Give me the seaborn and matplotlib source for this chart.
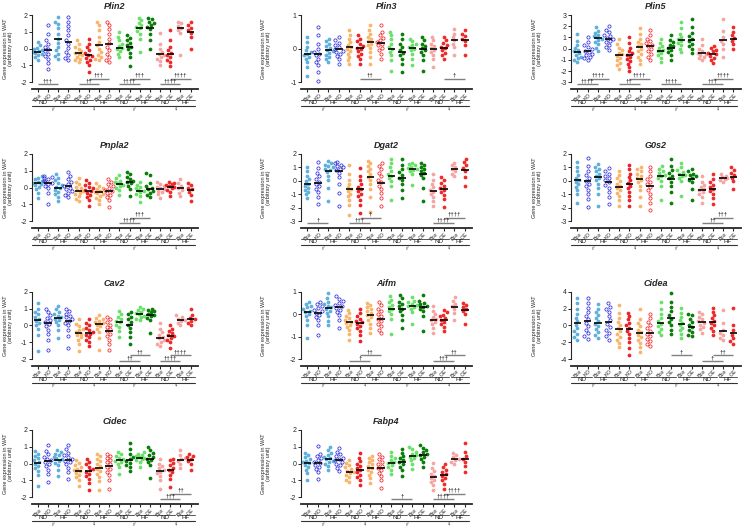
import numpy as np
import pandas as pd
import matplotlib
matplotlib.use('Agg')
import matplotlib.pyplot as plt
import matplotlib.transforms as mtrans
from matplotlib.colors import to_rgba
import seaborn as sns
import warnings
warnings.filterwarnings('ignore')

sns.set_theme(style='ticks')
plt.rcParams['font.family'] = ['Liberation Sans', 'DejaVu Sans']

# ---------------- categories / labels ----------------
GROUP_COLORS = ['#5FB0DA', '#2B2BD6', '#5FB0DA', '#2B2BD6',
                '#F9B56B', '#EC2227', '#F9B56B', '#EC2227',
                '#6BE06B', '#0A7D0A', '#6BE06B', '#0A7D0A',
                '#F6A5A5', '#EE2A2A', '#F6A5A5', '#EE2A2A']
OPEN_GROUPS = [1, 3, 7]
TICK_LABELS = ['Box', 'KO'] * 4 + ['Box', 'OE'] * 4
DIET_LABELS = ['ND', 'HF']
SEX_LABELS = ['♂', '♀', '♂', '♀']
YLABEL = 'Gene expression in WAT\n(arbitrary unit)'

# ---------------- data ----------------
PLIN2 = [
    [0.4, 0.2, 0.05, -0.05, -0.1, -0.15, -0.2, -0.25, -0.3, -0.4, -0.5, -0.65],
    [1.4, 0.9, 0.5, 0.3, 0.1, -0.05, -0.15, -0.3, -0.45, -0.6, -0.85, -1.2],
    [1.9, 1.6, 1.45, 1.2, 0.9, 0.6, 0.35, 0.1, -0.1, -0.3, -0.45, -0.6],
    [1.9, 1.6, 1.35, 1.1, 0.8, 0.5, 0.3, 0.05, -0.2, -0.4, -0.55, -0.7],
    [0.5, 0.3, 0.1, 0.0, -0.15, -0.25, -0.3, -0.4, -0.5, -0.6, -0.7, -0.8],
    [0.55, 0.3, 0.1, -0.1, -0.25, -0.35, -0.45, -0.55, -0.65, -0.8, -1.0, -1.4],
    [1.6, 1.4, 1.1, 0.7, 0.4, 0.2, 0.0, -0.2, -0.35, -0.5, -0.6, -0.7],
    [1.6, 1.4, 1.15, 0.9, 0.6, 0.35, 0.1, -0.1, -0.3, -0.5, -0.65, -0.8],
    [1.0, 0.7, 0.5, 0.3, 0.15, 0.05, -0.05, -0.15, -0.3, -0.5],
    [0.8, 0.65, 0.5, 0.35, 0.2, 0.1, -0.05, -0.25, -0.5, -1.05],
    [1.85, 1.7, 1.55, 1.4, 1.3, 1.2, 1.05, 0.9, 0.6, -0.2],
    [1.85, 1.75, 1.6, 1.5, 1.4, 1.3, 1.15, 0.9, 0.5, 0.0],
    [0.95, 0.3, 0.0, -0.2, -0.3, -0.4, -0.5, -0.6, -0.75, -1.0],
    [1.1, 0.5, 0.1, -0.1, -0.25, -0.35, -0.5, -0.65, -0.8, -1.05],
    [1.6, 1.5, 1.35, 1.2, 1.1, 0.95, -0.35],
    [1.6, 1.4, 1.25, 1.1, 0.95, 0.7, -0.05],
]
PLIN2_MEAN = [-0.2, -0.1, 0.55, 0.4, -0.25, -0.35, 0.2, 0.3,
              0.05, 0.1, 1.2, 1.25, -0.3, -0.3, 1.2, 1.0]
PLIN2_SIG = [(0, 2, 0, '†††'), (4, 6, 0, '††'), (5, 7, 1, '†††'), (8, 10, 0, '††††'),
             (9, 11, 1, '†††'), (12, 14, 0, '††††'), (13, 15, 1, '††††')]

PLIN3 = [
    [0.35, 0.2, 0.05, -0.05, -0.1, -0.15, -0.2, -0.25, -0.3, -0.4, -0.55, -0.8],
    [0.65, 0.4, 0.15, 0.0, -0.1, -0.15, -0.2, -0.3, -0.4, -0.5, -0.7, -0.95],
    [0.3, 0.22, 0.15, 0.08, 0.02, -0.03, -0.08, -0.12, -0.18, -0.25, -0.32, -0.4],
    [0.35, 0.25, 0.18, 0.1, 0.04, -0.02, -0.06, -0.1, -0.15, -0.22, -0.32, -0.45],
    [0.55, 0.4, 0.3, 0.2, 0.12, 0.05, 0.0, -0.07, -0.15, -0.25, -0.35, -0.45],
    [0.4, 0.3, 0.22, 0.15, 0.08, 0.03, -0.02, -0.08, -0.15, -0.22, -0.32, -0.45],
    [0.7, 0.55, 0.45, 0.35, 0.28, 0.22, 0.15, 0.1, 0.02, -0.1, -0.25, -0.45],
    [0.7, 0.5, 0.4, 0.32, 0.25, 0.2, 0.15, 0.1, 0.03, -0.05, -0.15, -0.3],
    [0.5, 0.4, 0.28, 0.15, 0.05, -0.02, -0.1, -0.2, -0.35, -0.65],
    [0.45, 0.3, 0.15, 0.05, -0.05, -0.12, -0.2, -0.3, -0.45, -0.7],
    [0.3, 0.22, 0.15, 0.1, 0.05, 0.0, -0.05, -0.15, -0.3, -0.5],
    [0.35, 0.25, 0.15, 0.08, 0.02, -0.05, -0.1, -0.2, -0.35, -0.65],
    [0.35, 0.25, 0.15, 0.08, 0.02, -0.05, -0.1, -0.18, -0.3, -0.55],
    [0.35, 0.25, 0.18, 0.12, 0.06, 0.02, -0.05, -0.12, -0.2, -0.3],
    [0.58, 0.45, 0.35, 0.25, 0.15, 0.05, -0.2],
    [0.55, 0.45, 0.38, 0.3, 0.22, 0.1, -0.2],
]
PLIN3_MEAN = [-0.17, -0.17, -0.03, -0.02, 0.05, 0.03, 0.2, 0.18,
              -0.02, -0.1, 0.03, -0.02, -0.02, 0.03, 0.25, 0.27]
PLIN3_SIG = [(5, 7, 1, '††'), (13, 15, 1, '†')]

PLIN5 = [
    [1.3, 0.7, 0.35, 0.1, -0.1, -0.25, -0.4, -0.55, -0.7, -0.85, -1.0, -1.2],
    [1.0, 0.6, 0.35, 0.15, -0.05, -0.2, -0.3, -0.45, -0.55, -0.7, -0.85, -1.0],
    [1.9, 1.6, 1.4, 1.25, 1.1, 1.0, 0.9, 0.75, 0.6, 0.4, 0.1, -0.2],
    [2.0, 1.7, 1.45, 1.25, 1.1, 0.95, 0.85, 0.7, 0.55, 0.35, 0.15, -0.1],
    [0.9, 0.4, 0.1, -0.15, -0.35, -0.5, -0.65, -0.8, -1.0, -1.25, -1.5, -1.8],
    [1.0, 0.5, 0.1, -0.2, -0.4, -0.55, -0.7, -0.9, -1.1, -1.35, -1.65, -2.0],
    [1.8, 1.3, 0.9, 0.6, 0.4, 0.2, 0.0, -0.2, -0.45, -0.7, -1.0, -1.4],
    [1.7, 1.2, 0.9, 0.7, 0.5, 0.35, 0.2, 0.0, -0.2, -0.45, -0.7, -1.0],
    [0.9, 0.5, 0.25, 0.05, -0.1, -0.25, -0.4, -0.6, -0.85, -1.2],
    [1.2, 0.8, 0.55, 0.35, 0.2, 0.05, -0.1, -0.3, -0.55, -1.0],
    [2.4, 1.8, 1.35, 1.05, 0.85, 0.7, 0.5, 0.3, 0.0, -0.3],
    [2.6, 1.9, 1.4, 1.1, 0.85, 0.65, 0.45, 0.2, -0.05, -0.4],
    [0.9, 0.3, 0.0, -0.2, -0.35, -0.45, -0.55, -0.7, -0.85, -1.0],
    [0.2, 0.05, -0.1, -0.25, -0.4, -0.5, -0.65, -0.8, -1.0, -1.3],
    [2.6, 1.6, 1.0, 0.7, 0.4, 0.0, -0.7],
    [1.9, 1.5, 1.2, 0.95, 0.7, 0.4, 0.0],
]
PLIN5_MEAN = [-0.27, -0.2, 0.97, 0.9, -0.55, -0.6, 0.15, 0.25,
              -0.2, 0.1, 0.77, 0.78, -0.35, -0.45, 0.75, 0.9]
PLIN5_SIG = [(0, 2, 0, '††††'), (1, 3, 1, '††††'), (4, 6, 0, '††'), (5, 7, 1, '††††'),
             (8, 10, 0, '††††'), (12, 14, 0, '†††'), (13, 15, 1, '††††')]

PNPLA2 = [
    [0.7, 0.6, 0.5, 0.42, 0.35, 0.28, 0.22, 0.15, 0.05, -0.1, -0.3, -0.6],
    [0.7, 0.65, 0.58, 0.5, 0.42, 0.35, 0.28, 0.2, 0.1, -0.05, -0.3, -1.0],
    [0.8, 0.6, 0.45, 0.3, 0.15, 0.05, -0.05, -0.15, -0.25, -0.4, -0.55, -0.8],
    [0.95, 0.7, 0.5, 0.35, 0.2, 0.1, 0.0, -0.1, -0.2, -0.3, -0.42, -0.55],
    [0.6, 0.35, 0.2, 0.05, -0.05, -0.15, -0.22, -0.3, -0.4, -0.5, -0.65, -0.8],
    [0.45, 0.3, 0.15, 0.05, -0.05, -0.12, -0.2, -0.3, -0.42, -0.55, -0.75, -1.1],
    [0.25, 0.1, 0.0, -0.1, -0.18, -0.25, -0.32, -0.4, -0.5, -0.6, -0.75, -1.0],
    [0.5, 0.35, 0.2, 0.08, -0.02, -0.12, -0.2, -0.3, -0.42, -0.55, -0.75, -1.15],
    [0.75, 0.55, 0.42, 0.32, 0.25, 0.18, 0.1, 0.0, -0.15, -0.45],
    [0.95, 0.8, 0.65, 0.52, 0.42, 0.35, 0.25, 0.1, -0.1, -0.5],
    [0.35, 0.15, 0.05, -0.05, -0.12, -0.2, -0.28, -0.38, -0.5, -0.85],
    [0.85, 0.75, 0.3, 0.1, 0.0, -0.1, -0.2, -0.3, -0.42, -0.55],
    [0.35, 0.22, 0.12, 0.05, -0.02, -0.1, -0.18, -0.28, -0.4, -0.6],
    [0.35, 0.28, 0.22, 0.15, 0.08, 0.02, -0.05, -0.12, -0.25, -0.5],
    [0.5, 0.25, 0.1, -0.05, -0.15, -0.3, -0.5],
    [0.3, 0.15, 0.0, -0.1, -0.25, -0.45, -0.8],
]
PNPLA2_MEAN = [0.25, 0.3, 0.0, 0.08, -0.18, -0.18, -0.28, -0.18,
               0.2, 0.35, -0.18, -0.08, -0.08, 0.02, -0.04, -0.15]
PNPLA2_SIG = [(8, 10, 0, '††††'), (9, 11, 1, '†††')]

DGAT2 = [
    [1.05, 0.7, 0.4, 0.15, 0.0, -0.2, -0.35, -0.5, -0.65, -0.8, -1.0, -1.25],
    [1.4, 0.95, 0.6, 0.35, 0.15, -0.05, -0.2, -0.4, -0.6, -0.85, -1.2, -1.75],
    [1.45, 1.3, 1.2, 1.1, 1.0, 0.9, 0.8, 0.65, 0.4, 0.1, -0.5, -1.5],
    [1.4, 1.3, 1.2, 1.1, 1.0, 0.9, 0.8, 0.6, 0.3, -0.2, -0.9, -1.85],
    [1.2, 0.5, 0.1, -0.2, -0.45, -0.6, -0.75, -0.95, -1.15, -1.4, -1.8, -2.5],
    [0.95, 0.4, 0.05, -0.25, -0.45, -0.6, -0.75, -0.95, -1.15, -1.4, -1.8, -2.4],
    [1.5, 1.3, 1.1, 0.9, 0.7, 0.5, 0.3, 0.1, -0.2, -0.6, -1.2, -2.3],
    [1.3, 1.1, 0.85, 0.6, 0.35, 0.1, -0.1, -0.35, -0.6, -0.9, -1.3, -1.9],
    [1.6, 1.3, 1.0, 0.75, 0.55, 0.4, 0.2, 0.0, -0.35, -1.4],
    [1.65, 1.2, 0.9, 0.65, 0.45, 0.25, 0.05, -0.25, -0.7, -1.3],
    [1.35, 1.25, 1.15, 1.05, 0.95, 0.9, 0.8, 0.7, 0.5, -0.3],
    [1.35, 1.2, 1.05, 0.9, 0.75, 0.6, 0.45, 0.2, -0.5, -1.5],
    [0.5, 0.1, -0.2, -0.45, -0.65, -0.8, -1.0, -1.2, -1.5, -1.9],
    [0.3, 0.1, -0.15, -0.35, -0.5, -0.65, -0.85, -1.05, -1.35, -1.95],
    [1.35, 1.15, 1.0, 0.85, 0.7, 0.55, 0.35],
    [1.65, 1.4, 1.15, 0.95, 0.7, 0.3, -0.35],
]
DGAT2_MEAN = [-0.22, -0.12, 0.76, 0.7, -0.62, -0.62, 0.3, -0.12,
              0.35, 0.2, 0.9, 0.52, -0.73, -0.62, 0.85, 0.83]
DGAT2_SIG = [(0, 2, 0, '†'), (4, 6, 0, '†††'), (5, 7, 1, '†'),
             (12, 14, 0, '††††'), (13, 15, 1, '††††')]

G0S2 = [
    [1.4, 1.0, 0.7, 0.45, 0.25, 0.1, -0.05, -0.25, -0.45, -0.7, -1.0, -1.65],
    [1.7, 1.1, 0.75, 0.45, 0.2, 0.0, -0.2, -0.4, -0.65, -0.95, -1.35, -1.95],
    [1.25, 1.05, 0.9, 0.7, 0.55, 0.4, 0.25, 0.05, -0.2, -0.5, -1.0, -1.9],
    [0.95, 0.75, 0.55, 0.35, 0.2, 0.05, -0.1, -0.3, -0.5, -0.8, -1.2, -1.7],
    [0.75, 0.45, 0.2, 0.0, -0.2, -0.35, -0.5, -0.7, -0.9, -1.15, -1.45, -1.85],
    [1.2, 0.85, 0.55, 0.3, 0.05, -0.15, -0.35, -0.55, -0.8, -1.1, -1.45, -1.9],
    [1.0, 0.85, 0.7, 0.55, 0.4, 0.25, 0.1, -0.1, -0.35, -0.7, -1.2, -1.9],
    [1.05, 0.7, 0.4, 0.15, -0.05, -0.25, -0.45, -0.7, -0.95, -1.25, -1.65, -2.15],
    [1.1, 0.9, 0.75, 0.6, 0.45, 0.35, 0.2, 0.0, -0.4, -1.4],
    [1.6, 1.1, 0.8, 0.6, 0.4, 0.2, -0.05, -0.35, -0.8, -1.65],
    [1.35, 1.0, 0.8, 0.65, 0.55, 0.45, 0.35, 0.2, 0.0, -1.15],
    [0.9, 0.7, 0.55, 0.45, 0.35, 0.25, 0.1, -0.1, -0.6, -1.4],
    [0.35, -0.1, -0.3, -0.45, -0.6, -0.7, -0.85, -1.0, -1.2, -1.65],
    [0.5, 0.15, -0.1, -0.3, -0.45, -0.6, -0.75, -0.95, -1.25, -1.75],
    [0.55, 0.4, 0.3, 0.2, 0.12, 0.05, -0.1],
    [1.0, 0.8, 0.6, 0.45, 0.25, 0.0, -0.6],
]
G0S2_MEAN = [0.07, -0.02, 0.3, -0.05, -0.42, -0.25, 0.12, -0.35,
             0.35, 0.17, 0.47, 0.17, -0.67, -0.57, 0.2, 0.32]
G0S2_SIG = [(12, 14, 0, '††'), (13, 15, 1, '†††')]

CAV2 = [
    [1.3, 1.0, 0.8, 0.65, 0.5, 0.38, 0.28, 0.15, 0.0, -0.2, -0.6, -1.5],
    [1.0, 0.8, 0.6, 0.45, 0.32, 0.2, 0.1, -0.05, -0.25, -0.5, -0.85, -1.45],
    [1.15, 0.95, 0.8, 0.68, 0.58, 0.48, 0.4, 0.3, 0.18, 0.0, -0.3, -0.75],
    [1.0, 0.85, 0.7, 0.58, 0.47, 0.37, 0.27, 0.15, 0.0, -0.25, -0.65, -1.35],
    [0.35, 0.1, -0.05, -0.2, -0.3, -0.4, -0.5, -0.6, -0.72, -0.88, -1.1, -1.55],
    [0.35, 0.15, 0.0, -0.15, -0.28, -0.4, -0.5, -0.6, -0.72, -0.85, -1.0, -1.25],
    [0.6, 0.45, 0.35, 0.28, 0.2, 0.12, 0.05, -0.05, -0.2, -0.4, -0.75, -1.45],
    [0.5, 0.35, 0.2, 0.05, -0.1, -0.22, -0.35, -0.5, -0.65, -0.85, -1.1, -1.45],
    [0.85, 0.65, 0.5, 0.38, 0.28, 0.18, 0.05, -0.1, -0.35, -0.7],
    [0.8, 0.65, 0.5, 0.35, 0.2, 0.05, -0.15, -0.4, -0.7, -1.1],
    [1.1, 1.0, 0.9, 0.8, 0.72, 0.65, 0.58, 0.5, 0.4, 0.3],
    [1.0, 0.92, 0.85, 0.78, 0.7, 0.62, 0.55, 0.45, 0.3, -0.45],
    [0.15, -0.2, -0.4, -0.55, -0.68, -0.78, -0.88, -0.98, -1.08, -1.2],
    [0.0, -0.2, -0.35, -0.48, -0.58, -0.66, -0.75, -0.85, -1.0, -1.35],
    [0.6, 0.5, 0.4, 0.32, 0.25, 0.15, 0.0],
    [1.0, 0.6, 0.45, 0.35, 0.25, 0.15, 0.0],
]
CAV2_MEAN = [0.33, 0.15, 0.43, 0.27, -0.45, -0.45, 0.08, -0.33,
             0.18, 0.05, 0.68, 0.63, -0.73, -0.63, 0.3, 0.35]
CAV2_SIG = [(8, 10, 0, '††'), (9, 11, 1, '††'), (12, 14, 0, '††††'), (13, 15, 1, '††††')]

AIFM = [
    [0.55, 0.45, 0.37, 0.3, 0.22, 0.15, 0.08, 0.0, -0.1, -0.25, -0.5, -1.05],
    [0.55, 0.45, 0.36, 0.28, 0.2, 0.13, 0.06, -0.02, -0.12, -0.28, -0.5, -0.95],
    [0.95, 0.7, 0.55, 0.45, 0.37, 0.3, 0.22, 0.15, 0.05, -0.1, -0.3, -0.5],
    [0.8, 0.68, 0.58, 0.5, 0.42, 0.35, 0.28, 0.2, 0.1, -0.05, -0.25, -0.6],
    [0.2, 0.05, -0.08, -0.18, -0.26, -0.33, -0.4, -0.48, -0.58, -0.7, -0.88, -1.15],
    [0.25, 0.05, -0.1, -0.2, -0.3, -0.37, -0.44, -0.52, -0.62, -0.75, -0.92, -1.2],
    [0.5, 0.42, 0.33, 0.25, 0.15, 0.05, -0.05, -0.15, -0.28, -0.42, -0.6, -0.85],
    [0.55, 0.4, 0.25, 0.12, 0.0, -0.1, -0.2, -0.3, -0.42, -0.55, -0.7, -0.85],
    [0.8, 0.65, 0.52, 0.42, 0.33, 0.25, 0.15, 0.02, -0.2, -0.9],
    [0.85, 0.7, 0.55, 0.45, 0.35, 0.25, 0.12, -0.02, -0.25, -0.6],
    [0.75, 0.6, 0.52, 0.46, 0.42, 0.38, 0.33, 0.25, 0.1, -0.45],
    [0.85, 0.6, 0.5, 0.44, 0.38, 0.32, 0.25, 0.15, -0.1, -0.75],
    [0.35, 0.15, 0.0, -0.12, -0.2, -0.28, -0.36, -0.45, -0.6, -0.85],
    [0.2, 0.08, -0.02, -0.1, -0.18, -0.26, -0.35, -0.45, -0.58, -0.75],
    [0.75, 0.6, 0.45, 0.35, 0.22, 0.05, -0.25],
    [0.5, 0.42, 0.33, 0.25, 0.15, 0.0, -0.45],
]
AIFM_MEAN = [0.09, 0.07, 0.27, 0.31, -0.37, -0.4, -0.03, -0.2,
             0.24, 0.24, 0.37, 0.3, -0.25, -0.25, 0.31, 0.19]
AIFM_SIG = [(4, 6, 0, '†'), (5, 7, 1, '††'), (12, 14, 0, '†††'), (13, 15, 1, '††')]

CIDEA = [
    [3.3, 2.6, 2.0, 1.4, 0.9, 0.5, 0.1, -0.3, -0.7, -1.0, -1.4, -1.7],
    [3.3, 2.7, 2.1, 1.6, 1.1, 0.7, 0.3, -0.1, -0.5, -0.9, -1.3, -1.6],
    [2.5, 2.0, 1.6, 1.2, 0.85, 0.5, 0.2, -0.1, -0.45, -0.8, -1.2, -1.5],
    [2.6, 2.2, 2.0, 1.6, 1.1, 0.6, 0.2, -0.2, -0.5, -0.9, -1.3, -1.7],
    [2.4, 1.5, 0.9, 0.4, 0.0, -0.35, -0.7, -1.0, -1.35, -1.7, -2.1, -2.6],
    [1.5, 1.1, 0.7, 0.3, 0.0, -0.3, -0.65, -1.0, -1.5, -2.0, -2.7, -3.5],
    [1.9, 0.8, 0.3, -0.1, -0.5, -0.8, -1.1, -1.4, -1.7, -2.1, -2.6, -3.2],
    [1.4, 0.9, 0.4, 0.0, -0.35, -0.7, -1.0, -1.3, -1.6, -1.9, -2.2, -2.5],
    [2.8, 2.0, 1.4, 0.9, 0.5, 0.2, -0.1, -0.4, -0.8, -1.2],
    [3.8, 2.8, 2.2, 1.7, 1.2, 0.8, 0.4, 0.0, -0.5, -1.0],
    [2.1, 1.5, 1.0, 0.6, 0.3, 0.0, -0.3, -0.6, -1.0, -1.5],
    [1.4, 1.2, 0.8, 0.4, 0.1, -0.2, -0.5, -0.8, -1.1, -1.3],
    [1.6, 1.3, 1.0, 0.75, 0.5, 0.3, 0.1, -0.15, -0.45, -0.85],
    [2.1, 1.6, 1.2, 0.9, 0.55, 0.3, 0.0, -0.3, -0.7, -1.2],
    [1.8, 0.3, -0.5, -0.9, -1.2, -1.45, -1.7],
    [2.1, 0.0, -0.6, -1.1, -1.5, -1.9, -2.2],
]
CIDEA_MEAN = [0.3, 0.47, 0.3, 0.4, -0.43, -0.43, -0.9, -0.86,
              0.3, 0.85, 0.12, -0.15, 0.38, 0.38, -0.7, -0.86]
CIDEA_SIG = [(9, 11, 1, '†'), (12, 14, 0, '†'), (13, 15, 1, '††')]

CIDEC = [
    [0.75, 0.6, 0.45, 0.32, 0.2, 0.1, 0.0, -0.12, -0.25, -0.42, -0.7, -1.3],
    [1.1, 0.75, 0.55, 0.42, 0.3, 0.2, 0.1, 0.0, -0.15, -0.35, -0.6, -1.1],
    [0.8, 0.7, 0.6, 0.5, 0.42, 0.33, 0.25, 0.15, 0.05, -0.1, -0.35, -0.75],
    [1.1, 0.85, 0.65, 0.5, 0.38, 0.28, 0.18, 0.08, -0.05, -0.25, -0.5, -0.9],
    [0.2, 0.05, -0.1, -0.2, -0.3, -0.38, -0.46, -0.55, -0.68, -0.82, -1.0, -1.3],
    [0.3, 0.1, -0.05, -0.18, -0.3, -0.4, -0.5, -0.62, -0.76, -0.92, -1.15, -1.55],
    [0.6, 0.45, 0.3, 0.15, 0.0, -0.15, -0.3, -0.45, -0.6, -0.8, -1.05, -1.55],
    [0.6, 0.45, 0.32, 0.2, 0.08, -0.05, -0.18, -0.32, -0.48, -0.68, -0.95, -1.5],
    [0.7, 0.55, 0.45, 0.35, 0.26, 0.18, 0.1, 0.0, -0.2, -0.6],
    [1.2, 0.85, 0.6, 0.42, 0.28, 0.16, 0.05, -0.08, -0.22, -0.45],
    [0.7, 0.6, 0.5, 0.43, 0.37, 0.32, 0.27, 0.2, 0.1, -0.2],
    [1.0, 0.8, 0.62, 0.5, 0.4, 0.3, 0.2, 0.08, -0.1, -0.85],
    [0.25, 0.0, -0.15, -0.27, -0.37, -0.47, -0.58, -0.72, -0.95, -1.5],
    [0.3, 0.2, 0.05, -0.1, -0.25, -0.38, -0.52, -0.68, -0.9, -1.4],
    [0.8, 0.5, 0.35, 0.25, 0.15, 0.0, -0.25],
    [0.6, 0.48, 0.38, 0.28, 0.15, 0.0, -0.35],
]
CIDEC_MEAN = [0.04, 0.14, 0.24, 0.2, -0.42, -0.45, -0.26, -0.16,
              0.2, 0.2, 0.34, 0.28, -0.42, -0.36, 0.24, 0.22]
CIDEC_SIG = [(12, 14, 0, '†††'), (13, 15, 1, '††')]

FABP4 = [
    [0.65, 0.5, 0.38, 0.28, 0.18, 0.1, 0.02, -0.08, -0.2, -0.35, -0.55, -1.0],
    [1.05, 0.6, 0.45, 0.33, 0.22, 0.12, 0.04, -0.06, -0.18, -0.32, -0.52, -0.9],
    [1.0, 0.8, 0.65, 0.52, 0.42, 0.34, 0.26, 0.18, 0.1, 0.0, -0.15, -0.4],
    [0.95, 0.72, 0.58, 0.46, 0.36, 0.27, 0.19, 0.1, 0.0, -0.1, -0.25, -0.45],
    [0.2, 0.05, -0.1, -0.22, -0.33, -0.42, -0.5, -0.58, -0.68, -0.8, -0.95, -1.1],
    [0.65, 0.35, 0.15, 0.0, -0.15, -0.28, -0.4, -0.52, -0.66, -0.82, -1.0, -1.25],
    [0.45, 0.32, 0.2, 0.08, -0.04, -0.15, -0.26, -0.38, -0.52, -0.68, -0.88, -1.15],
    [0.6, 0.42, 0.27, 0.12, 0.0, -0.12, -0.24, -0.38, -0.55, -0.75, -1.0, -1.45],
    [0.7, 0.45, 0.32, 0.2, 0.1, 0.02, -0.08, -0.2, -0.35, -0.6],
    [0.9, 0.65, 0.45, 0.32, 0.2, 0.1, -0.02, -0.18, -0.38, -0.75],
    [1.0, 0.85, 0.72, 0.6, 0.5, 0.42, 0.32, 0.2, 0.0, -0.3],
    [1.1, 0.95, 0.82, 0.7, 0.6, 0.52, 0.42, 0.3, 0.1, -0.2],
    [0.05, -0.25, -0.45, -0.6, -0.72, -0.84, -0.96, -1.1, -1.28, -1.55],
    [0.0, -0.2, -0.38, -0.52, -0.64, -0.75, -0.86, -1.0, -1.2, -1.5],
    [0.65, 0.5, 0.4, 0.3, 0.22, 0.12, 0.0],
    [1.25, 0.7, 0.45, 0.3, 0.1, -0.15, -0.5],
]
FABP4_MEAN = [0.04, 0.06, 0.28, 0.2, -0.5, -0.37, -0.25, -0.25,
              0.04, 0.1, 0.44, 0.53, -0.8, -0.7, 0.3, 0.28]
FABP4_SIG = [(8, 10, 0, '†'), (12, 14, 0, '††††'), (13, 15, 1, '††††')]

# name, values, means, significance, y range, y step, (row, col)
PANELS = [
    ('Plin2', PLIN2, PLIN2_MEAN, PLIN2_SIG, (-2, 2), 1, (0, 0)),
    ('Plin3', PLIN3, PLIN3_MEAN, PLIN3_SIG, (-1, 1), 1, (0, 1)),
    ('Plin5', PLIN5, PLIN5_MEAN, PLIN5_SIG, (-3, 3), 1, (0, 2)),
    ('Pnpla2', PNPLA2, PNPLA2_MEAN, PNPLA2_SIG, (-2, 2), 1, (1, 0)),
    ('Dgat2', DGAT2, DGAT2_MEAN, DGAT2_SIG, (-3, 2), 1, (1, 1)),
    ('G0s2', G0S2, G0S2_MEAN, G0S2_SIG, (-3, 2), 1, (1, 2)),
    ('Cav2', CAV2, CAV2_MEAN, CAV2_SIG, (-2, 2), 1, (2, 0)),
    ('Aifm', AIFM, AIFM_MEAN, AIFM_SIG, (-2, 1), 1, (2, 1)),
    ('Cidea', CIDEA, CIDEA_MEAN, CIDEA_SIG, (-4, 4), 2, (2, 2)),
    ('Cidec', CIDEC, CIDEC_MEAN, CIDEC_SIG, (-2, 2), 1, (3, 0)),
    ('Fabp4', FABP4, FABP4_MEAN, FABP4_SIG, (-2, 2), 1, (3, 1)),
]

# ---------------- layout (pixels) ----------------
W, H = 743, 529
COL_G0 = [37.7, 307.3, 577.3]
COL_DX = [10.2, 10.5, 10.4]
COL_YLABEL_X = [8, 266, 537]
ROW_TOP = [15, 154, 291.7, 430]
AX_H = 74.0
TICK_SPAN = 67.3
XL, XR = -0.6, 15.7
LOWER_BR, UPPER_BR = 4.7, 10.5   # px above x axis

fig = plt.figure(figsize=(W / 100, H / 100), dpi=100)
names = [f'g{i}' for i in range(16)]
palette = {n: c for n, c in zip(names, GROUP_COLORS)}

for title, values, means, sigs, (ymin, ymax), ystep, (r, c) in PANELS:
    g0, dx = COL_G0[c], COL_DX[c]
    left = g0 + XL * dx
    width = (XR - XL) * dx
    top = ROW_TOP[r]
    ax = fig.add_axes([left / W, 1 - (top + AX_H) / H, width / W, AX_H / H])

    df = pd.DataFrame({
        'grp': [names[i] for i, v in enumerate(values) for _ in v],
        'val': [x for v in values for x in v],
    })
    sns.swarmplot(data=df, x='grp', y='val', hue='grp', order=names, hue_order=names,
                  palette=palette, size=2.7, linewidth=0, legend=False, ax=ax, zorder=2)
    # open markers for the KO groups drawn hollow in the reference
    for coll in ax.collections:
        offs = np.asarray(coll.get_offsets())
        if len(offs) == 0:
            continue
        g = int(np.clip(np.rint(np.median(offs[:, 0])), 0, 15))
        col = to_rgba(GROUP_COLORS[g])
        if g in OPEN_GROUPS:
            coll.set_facecolor((1, 1, 1, 0))
            coll.set_edgecolor(col)
            coll.set_linewidth(0.55)
            coll.set_sizes([2.3 ** 2])
        else:
            coll.set_facecolor(col)
            coll.set_edgecolor(col)
            coll.set_linewidth(0.0)
        coll.set_clip_on(False)

    xs = np.arange(16)
    ax.hlines(means, xs - 0.36, xs + 0.36, color='black', lw=1.2, zorder=10)

    span = ymax - ymin
    ybot = ymin - span * (AX_H - TICK_SPAN) / TICK_SPAN
    ax.set_xlim(XL, XR)
    ax.set_ylim(ybot, ymax)
    yt = np.arange(ymin, ymax + 0.01, ystep)
    ax.set_yticks(yt)
    ax.set_yticklabels([f'{int(t)}' for t in yt])
    ax.set_xticks(xs)
    ax.set_xticklabels(TICK_LABELS, rotation=45, ha='center', va='top')
    ax.set_xlabel('')
    ax.set_ylabel('')
    for s in ['top', 'right']:
        ax.spines[s].set_visible(False)
    ax.spines['left'].set_bounds(ymin, ymax)
    ax.spines['left'].set_linewidth(0.8)
    ax.spines['bottom'].set_linewidth(1.3)
    ax.tick_params(axis='y', length=2.2, width=0.7, pad=1, labelsize=5)
    ax.tick_params(axis='x', length=2.0, width=0.8, pad=0.3, labelsize=4.0)
    ax.set_title(title, fontsize=6.5, fontweight='bold', fontstyle='italic', pad=4)
    fig.text(COL_YLABEL_X[c] / W, 1 - (top + TICK_SPAN / 2) / H, YLABEL, rotation=90,
             ha='center', va='center', fontsize=4.0, linespacing=1.15)

    tr = mtrans.blended_transform_factory(ax.transData, ax.transAxes)
    # significance brackets
    for s, e, lvl, txt in sigs:
        yb = (LOWER_BR if lvl == 0 else UPPER_BR) / AX_H
        ax.plot([s, e], [yb, yb], transform=tr, color='#808080', lw=1.0,
                clip_on=False, zorder=3, solid_capstyle='butt')
        ax.text((s + e) / 2, yb + 0.6 / AX_H, txt, transform=tr, ha='center', va='bottom',
                fontsize=4.3, color='black', zorder=4)

    # group annotations below the axis
    y_diet_line = -10.8 / AX_H
    y_diet_txt = -13.5 / AX_H
    y_sex_line = -17.0 / AX_H
    y_sex_txt = -20.5 / AX_H
    for b in range(4):
        base = 4 * b
        ax.plot([base - 0.6, base + 1.45], [y_diet_line] * 2, transform=tr, color='#555555',
                lw=0.7, clip_on=False)
        ax.plot([base + 1.65, base + 3.4], [y_diet_line] * 2, transform=tr, color='#555555',
                lw=0.7, clip_on=False)
        ax.text(base + 0.5, y_diet_txt, DIET_LABELS[0], transform=tr, ha='center', va='center',
                fontsize=4.5)
        ax.text(base + 2.5, y_diet_txt, DIET_LABELS[1], transform=tr, ha='center', va='center',
                fontsize=4.5)
        ax.plot([base - 0.6, base + 3.4], [y_sex_line] * 2, transform=tr, color='#333333',
                lw=0.8, clip_on=False)
        ax.text(base + 1.5, y_sex_txt, SEX_LABELS[b], transform=tr, ha='center', va='center',
                fontsize=4.2)

fig.savefig('out.png', dpi=100)
